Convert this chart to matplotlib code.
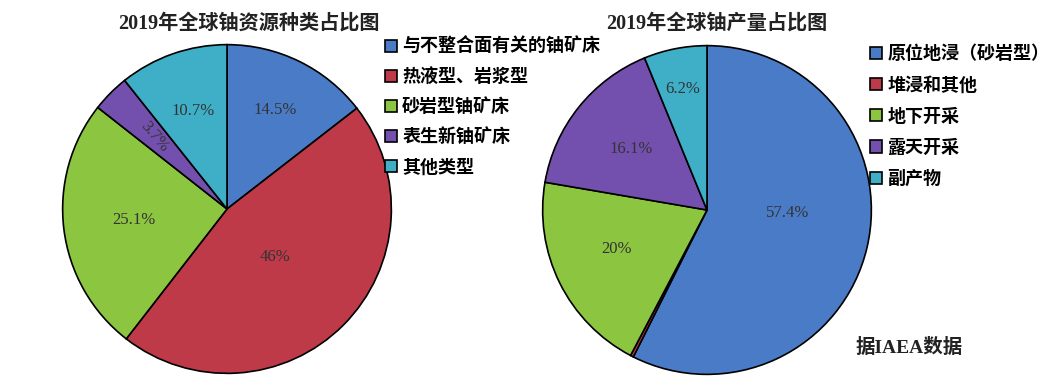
import matplotlib
matplotlib.use("Agg")
import matplotlib.pyplot as plt
import numpy as np

# ---- data ----
res_title = "2019年全球铀资源种类占比图"
res_labels = ["与不整合面有关的铀矿床", "热液型、岩浆型", "砂岩型铀矿床", "表生新铀矿床", "其他类型"]
res_values = [14.5, 46, 25.1, 3.7, 10.7]
res_pct_text = ["14.5%", "46%", "25.1%", "3.7%", "10.7%"]

prod_title = "2019年全球铀产量占比图"
prod_labels = ["原位地浸（砂岩型）", "堆浸和其他", "地下开采", "露天开采", "副产物"]
prod_values = [57.4, 0.3, 20, 16.1, 6.2]
prod_pct_text = ["57.4%", "", "20%", "16.1%", "6.2%"]

source_note = "据IAEA数据"

colors = ["#4A7BC6", "#BE3A48", "#8CC540", "#7450AE", "#3FAFC8"]

# ---- style ----
W, H = 1059, 386
fig = plt.figure(figsize=(W / 100, H / 100), dpi=100)
serif_cjk = ["Liberation Serif", "Noto Sans CJK SC"]
sans_cjk = ["Noto Sans CJK SC", "DejaVu Sans"]


def px_axes(cx, cy, r):
    return fig.add_axes([(cx - r) / W, (H - cy - r) / H, 2 * r / W, 2 * r / H])


def draw_pie(ax, values, pct_text, radial, ang_off, rot):
    wedges, _ = ax.pie(values, colors=colors, startangle=90, counterclock=False,
                       wedgeprops=dict(edgecolor="black", linewidth=1.2),
                       radius=1.0)
    ax.set_xlim(-1.01, 1.01)
    ax.set_ylim(-1.01, 1.01)
    ax.set_aspect("equal")
    ax.axis("off")
    for w, t, rf, ao, ro in zip(wedges, pct_text, radial, ang_off, rot):
        if not t:
            continue
        ang = np.deg2rad((w.theta1 + w.theta2) / 2 + ao)
        ax.text(rf * np.cos(ang), rf * np.sin(ang), t, ha="center", va="center",
                fontsize=12, family=serif_cjk, color="#333333", rotation=ro)
    return wedges


# left pie
ax1 = px_axes(227, 209, 166)
w1 = draw_pie(ax1, res_values, res_pct_text,
              [0.67, 0.41, 0.57, 0.62, 0.63], [0, 0, 0, 0, 0], [0, 0, 0, -50, 0])
fig.text(249 / W, 1 - 24 / H, res_title, ha="center", va="center",
         fontsize=14.5, family=serif_cjk, fontweight="bold", color="#222222")
fig.legend(w1, res_labels, loc="upper left", bbox_to_anchor=(385 / W, 1 - 37 / H),
           frameon=False, prop=dict(family=sans_cjk, size=13, weight="bold"),
           handlelength=0.65, handleheight=0.65, handletextpad=0.3, labelspacing=0.62,
           borderaxespad=0, borderpad=0)

# right pie
ax2 = px_axes(707, 210, 166)
w2 = draw_pie(ax2, prod_values, prod_pct_text,
              [0.49, 0.0, 0.6, 0.59, 0.75], [11, 0, -3, 0, 0], [0, 0, 0, 0, 0])
fig.text(717 / W, 1 - 24 / H, prod_title, ha="center", va="center",
         fontsize=14.5, family=serif_cjk, fontweight="bold", color="#222222")
fig.legend(w2, prod_labels, loc="upper left", bbox_to_anchor=(870 / W, 1 - 44 / H),
           frameon=False, prop=dict(family=sans_cjk, size=13, weight="bold"),
           handlelength=0.65, handleheight=0.65, handletextpad=0.3, labelspacing=0.68,
           borderaxespad=0, borderpad=0)

fig.text(909 / W, 1 - 347 / H, source_note, ha="center", va="center",
         fontsize=14, family=serif_cjk, fontweight="bold", color="#222222")

fig.savefig("out.png", dpi=100, facecolor="white")
